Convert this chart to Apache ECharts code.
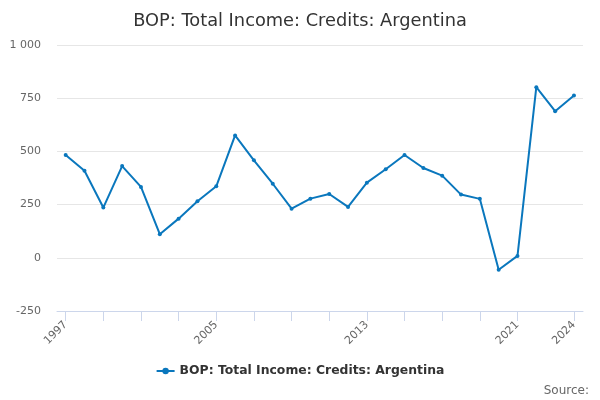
<!DOCTYPE html>
<html><head><meta charset="utf-8">
<script src="https://cdn.jsdelivr.net/npm/echarts@6/dist/echarts.min.js"></script>
<style>html,body{margin:0;padding:0;background:#fff}#c{width:600px;height:400px}</style>
</head><body><div id="c"></div>
<script>
const years = [1997,1998,1999,2000,2001,2002,2003,2004,2005,2006,2007,2008,2009,2010,2011,2012,2013,2014,2015,2016,2017,2018,2019,2020,2021,2022,2023,2024];
const values = [483,409,236,431,333,111,184,266,336,575,458,348,231,278,300,239,353,416,483,422,386,297,277,-56,9,802,689,763];
const tickYears = [1997,1999,2001,2003,2005,2007,2009,2011,2013,2015,2017,2019,2021,2024];
const labelYears = [1997,2005,2013,2021,2024];
const seriesName = 'BOP: Total Income: Credits: Argentina';

const chart = echarts.init(document.getElementById('c'));
chart.setOption({
  animation:false,
  title:{text:seriesName,left:'center',top:7,textStyle:{fontFamily:'DejaVu Sans',fontSize:17.8,fontWeight:'normal',color:'#333'}},
  grid:{left:57,right:17,top:45,bottom:89},
  legend:{bottom:18,left:'center',itemWidth:18,itemHeight:8,itemGap:5,textStyle:{fontFamily:'DejaVu Sans',fontSize:12.4,fontWeight:'bold',color:'#333'},data:[seriesName]},
  graphic:[{type:'text',right:11,bottom:3,style:{text:'Source:',fontFamily:'DejaVu Sans',fontSize:12,fill:'#666'}}],
  xAxis:{type:'value',min:1996.54,max:2024.48,
    axisLine:{onZero:false,lineStyle:{color:'#ccd6eb'}},
    axisTick:{show:true,length:10,lineStyle:{color:'#ccd6eb'},customValues:tickYears},
    axisLabel:{rotate:45,fontFamily:'DejaVu Sans',fontSize:11,color:'#666',customValues:labelYears,formatter:v=>String(v),margin:12},
    splitLine:{show:false}},
  yAxis:{type:'value',min:-250,max:1000,interval:250,
    axisLine:{show:false},axisTick:{show:false},
    axisLabel:{fontFamily:'DejaVu Sans',fontSize:11,color:'#666',margin:16,formatter:v=>String(v).replace(/\B(?=(\d{3})+(?!\d))/g,' ')},
    splitLine:{lineStyle:{color:'#e6e6e6'}}},
  series:[{name:seriesName,type:'line',data:years.map((y,i)=>[y,values[i]]),
    symbol:'circle',symbolSize:4,lineStyle:{width:2,color:'#0a77bd'},itemStyle:{color:'#0a77bd'}}]
});
</script></body></html>
